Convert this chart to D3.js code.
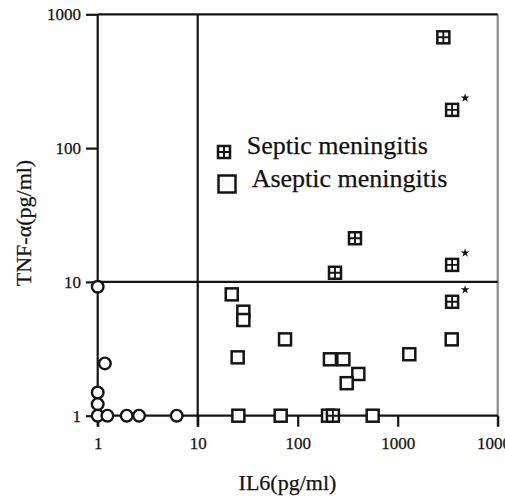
<!DOCTYPE html>
<html>
<head>
<meta charset="utf-8">
<script src="https://cdn.jsdelivr.net/npm/d3@7"></script>
<style>
  body { margin: 0; background: #fff; }
  svg text { font-family: "Liberation Serif", "Times New Roman", serif; fill: #111; stroke: #111; stroke-width: 0.25; }
</style>
</head>
<body>
<div id="chart"></div>
<script>
// tick values
const il6Ticks = [1, 10, 100, 1000, 10000];
const tnfTicks = [1, 10, 100, 1000];

// septic meningitis (IL6, TNF-a), starred = marked with asterisk
const septicIL6 = [2860, 3500, 374, 236, 3500, 3500, 225];
const septicTNF = [673, 193, 21.2, 11.7, 13.4, 7.1, 1];
const septicStar = [false, true, false, false, true, true, false];

// aseptic meningitis
const asepticIL6 = [21.9, 28.6, 28.6, 25.1, 25.5, 74.7, 210, 286, 404, 309, 1306, 3467, 67.6, 201, 562];
const asepticTNF = [8.07, 5.99, 5.19, 2.73, 1, 3.72, 2.64, 2.64, 2.05, 1.75, 2.88, 3.72, 1, 1, 1];

// open circles (other group)
const otherIL6 = [1, 1.18, 1, 1, 1, 1.25, 1.95, 2.59, 6.17];
const otherTNF = [9.2, 2.46, 1.49, 1.22, 1, 1, 1, 1, 1];

const svg = d3.select("#chart")
    .append("svg")
    .attr("width", 505)
    .attr("height", 500);

const x = d3.scaleLog().domain([1, 10000]).range([97.7, 497.7]);
const y = d3.scaleLog().domain([1, 1000]).range([415.7, 14.3]);

const ink = "#151515";

// frame and reference lines
const lines = [
    { x1: x(1), y1: y(1000), x2: x(1), y2: y(1) + 11, c: ink },
    { x1: x(10), y1: y(1000), x2: x(10), y2: y(1) + 11, c: ink },
    { x1: x(10000), y1: y(1000), x2: x(10000), y2: y(1) + 11, c: "#8a8a8a" },
    { x1: x(1), y1: y(1000), x2: x(10000), y2: y(1000), c: ink },
    { x1: x(1), y1: y(10), x2: x(10000), y2: y(10), c: ink },
    { x1: x(1), y1: y(1), x2: x(10000), y2: y(1), c: ink }
];
svg.append("g").selectAll("line")
    .data(lines)
    .join("line")
    .attr("x1", d => d.x1).attr("y1", d => d.y1)
    .attr("x2", d => d.x2).attr("y2", d => d.y2)
    .attr("stroke", d => d.c)
    .attr("stroke-width", 2.2);

// axes
const xAxis = svg.append("g")
    .attr("transform", `translate(0,${y(1)})`)
    .call(d3.axisBottom(x).tickValues(il6Ticks).tickFormat(d3.format("d"))
        .tickSize(11).tickPadding(10.5));
const yAxis = svg.append("g")
    .attr("transform", `translate(${x(1)},0)`)
    .call(d3.axisLeft(y).tickValues(tnfTicks).tickFormat(d3.format("d"))
        .tickSize(11.7).tickPadding(5));
[xAxis, yAxis].forEach(a => {
    a.select(".domain").remove();
    a.selectAll(".tick line").attr("stroke", ink).attr("stroke-width", 2.2);
    a.selectAll(".tick text")
        .attr("font-size", 17)
        .attr("font-family", "Liberation Serif, serif")
        .attr("fill", "#111");
});

// axis titles
svg.append("text")
    .attr("x", 287.5)
    .attr("y", 490)
    .attr("text-anchor", "middle")
    .attr("font-size", 22)
    .text("IL6(pg/ml)");

svg.append("text")
    .attr("transform", "translate(31,223) rotate(-90)")
    .attr("text-anchor", "middle")
    .attr("font-size", 22)
    .text("TNF-α(pg/ml)");

// marker helpers
function septicMark(g, cx, cy, s) {
    g.append("rect")
        .attr("x", cx - s / 2).attr("y", cy - s / 2)
        .attr("width", s).attr("height", s)
        .attr("fill", "#fff").attr("stroke", ink).attr("stroke-width", 2.5);
    g.append("path")
        .attr("d", `M${cx - s / 2},${cy}H${cx + s / 2}M${cx},${cy - s / 2}V${cy + s / 2}`)
        .attr("stroke", ink).attr("stroke-width", 1.9);
}
function asepticMark(g, cx, cy, s) {
    g.append("rect")
        .attr("x", cx - s / 2).attr("y", cy - s / 2)
        .attr("width", s).attr("height", s)
        .attr("fill", "#fff").attr("stroke", ink).attr("stroke-width", 2.5);
}

// circles
svg.append("g").selectAll("circle")
    .data(otherIL6.map((v, i) => ({ il: v, tnf: otherTNF[i] })))
    .join("circle")
    .attr("cx", d => x(d.il))
    .attr("cy", d => y(d.tnf))
    .attr("r", 5.8)
    .attr("fill", "#fff")
    .attr("stroke", ink)
    .attr("stroke-width", 2.4);

// aseptic squares
const gA = svg.append("g");
asepticIL6.forEach((v, i) => asepticMark(gA, x(v), y(asepticTNF[i]), 12));

// septic squares
const gS = svg.append("g");
septicIL6.forEach((v, i) => {
    septicMark(gS, x(v), y(septicTNF[i]), 12);
    if (septicStar[i]) {
        gS.append("path")
            .attr("transform", `translate(${x(v) + 13},${y(septicTNF[i]) - 12})`)
            .attr("d", d3.symbol().type(d3.symbolStar).size(24)())
            .attr("fill", ink);
    }
});

// legend
const gL = svg.append("g");
septicMark(gL, 224, 152, 12);
asepticMark(gL, 227, 184, 17);
gL.append("text").attr("x", 246.7).attr("y", 153.5).attr("font-size", 26).text("Septic meningitis");
gL.append("text").attr("x", 251.7).attr("y", 187).attr("font-size", 26).text("Aseptic meningitis");
</script>
</body>
</html>
